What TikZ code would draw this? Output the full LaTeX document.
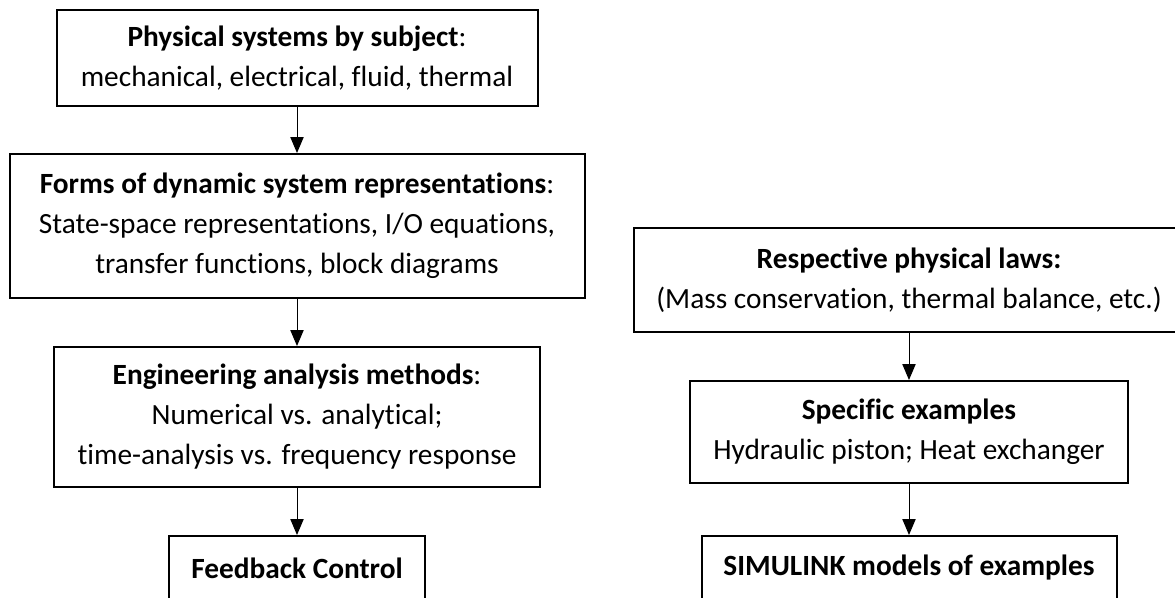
\documentclass[tikz,border=0pt]{standalone}
\usepackage{fontspec}
\setmainfont{Carlito}[Ligatures=CommonOff]
\usetikzlibrary{arrows.meta, positioning, graphs}
\tikzset{
>={Triangle[length=12pt,width=10pt]},
black,
text=black,
box/.style={%
    rectangle,
    draw=black,
    line width=1.5pt,
    inner sep=0pt,
    align=center,
    % Font
    font=\fontsize{22}{30}\selectfont
},
}

\begin{document}
\begin{tikzpicture}
			\useasboundingbox (0,0) rectangle (881.25pt,-447.75pt);
			% left column
			\node[box, minimum width=360.75pt, minimum height=72pt] (phys) at (222.75pt,-43.5pt)
				{\textbf{Physical systems by subject}:\\ mechanical, electrical, fluid, thermal};
			\node[box, minimum width=431.25pt, minimum height=108pt, below=34.5pt of phys] (forms)
				{\textbf{Forms of dynamic system representations}:\\ State-space representations, I/O equations,\\ transfer functions, block diagrams};
			\node[box, minimum width=364.5pt, minimum height=105pt, below=35.25pt of forms] (methods)
				{\textbf{Engineering analysis methods}:\\ Numerical vs. analytical;\\ time-analysis vs. frequency response};
			\node[box, minimum width=192pt, minimum height=48pt, below=35.25pt of methods] (feedback)
				{\textbf{Feedback Control}};
			% right column
			\node[box, minimum width=412.5pt, minimum height=78pt] (laws) at (681.75pt,-210pt)
				{\textbf{Respective physical laws:}\\ (Mass conservation, thermal balance, etc.)};
			\node[box, minimum width=328.5pt, minimum height=76.5pt, below=35.25pt of laws] (examples)
				{\textbf{Specific examples}\\ Hydraulic piston; Heat exchanger};
			\node[box, minimum width=311.25pt, minimum height=48pt, below=38.25pt of examples] (simulink)
				{\textbf{SIMULINK models of examples}};

			\graph [use existing nodes, edges={line width=0.75pt}] {
				phys -> forms -> methods -> feedback;
				laws -> examples -> simulink;
			};
		\end{tikzpicture}
\end{document}
